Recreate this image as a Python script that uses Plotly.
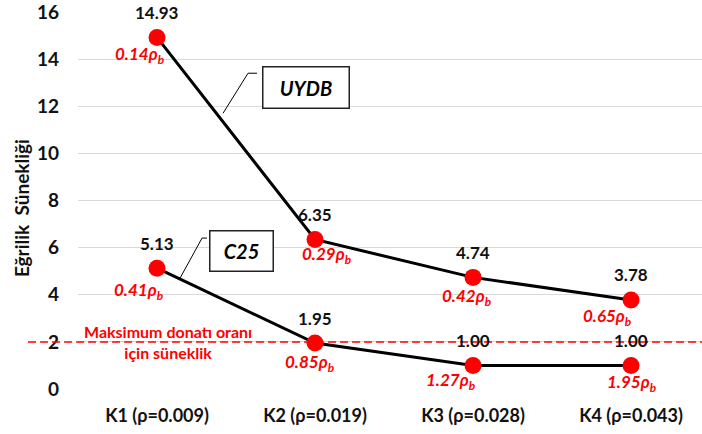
import plotly.graph_objects as go

categories = ["K1 (ρ=0.009)", "K2 (ρ=0.019)", "K3 (ρ=0.028)", "K4 (ρ=0.043)"]
uydb_values = [14.93, 6.35, 4.74, 3.78]
c25_values = [5.13, 1.95, 1.00, 1.00]
uydb_ratio = ["0.14", "0.29", "0.42", "0.65"]
c25_ratio = ["0.41", "0.85", "1.27", "1.95"]
y_ticks = [0, 2, 4, 6, 8, 10, 12, 14, 16]
limit_value = 2

FONT = "Lato"
xs = list(range(len(categories)))

fig = go.Figure()
for vals in (uydb_values, c25_values):
    fig.add_trace(go.Scatter(
        x=xs, y=vals, mode="lines+markers",
        line=dict(color="black", width=3),
        marker=dict(color="#ff0000", size=17),
        showlegend=False, hoverinfo="skip", cliponaxis=False))

ann = []
# value labels
for vals in (uydb_values, c25_values):
    for i, v in enumerate(vals):
        ann.append(dict(x=i, y=v, xref="x", yref="y", text=f"{v:.2f}", showarrow=False,
                        yshift=25, font=dict(family=FONT, size=17, color="#111", weight="bold")))
# ratio labels (offsets in px)
uydb_off = [(-17, -18), (12, -16), (-6, -20), (-24, -17)]
c25_off = [(-18, -23), (-5, -20), (-22, -16), (1, -18)]
for vals, ratios, offs in ((uydb_values, uydb_ratio, uydb_off), (c25_values, c25_ratio, c25_off)):
    for i, (v, r) in enumerate(zip(vals, ratios)):
        ann.append(dict(x=i, y=v, xref="x", yref="y", text=f"<i>{r}ρ<sub>b</sub></i>", showarrow=False,
                        xshift=offs[i][0], yshift=offs[i][1],
                        font=dict(family=FONT, size=17, color="#ff0000", weight="bold")))
# limit text
ann.append(dict(x=0.07, y=limit_value, xref="x", yref="y",
                text="Maksimum donatı oranı<br>için süneklik", showarrow=False,
                font=dict(family=FONT, size=16, color="#ff0000", weight="bold")))
# y-axis title
ann.append(dict(x=-0.0913, y=0.48, xref="paper", yref="paper", text="Eğrilik  Sünekliği",
                textangle=-90, showarrow=False, xanchor="center", yanchor="middle",
                font=dict(family=FONT, size=19, color="#111", weight="bold")))
# series callouts
ann.append(dict(x=0.946, y=12.82, xref="x", yref="y", text="<i>UYDB</i>", showarrow=False,
                width=83, height=38, bordercolor="#222", borderwidth=1.5, bgcolor="white",
                font=dict(family=FONT, size=20, color="black", weight="bold")))
ann.append(dict(x=0.532, y=5.84, xref="x", yref="y", text="<i>C25</i>", showarrow=False,
                width=60, height=37, bordercolor="#222", borderwidth=1.5, bgcolor="white",
                font=dict(family=FONT, size=20, color="black", weight="bold")))

shapes = [
    dict(type="line", xref="paper", yref="y", x0=-0.08, x1=1, y0=limit_value, y1=limit_value,
         line=dict(color="#ff0000", width=1.5, dash="8px,4px"), layer="above"),
    dict(type="path", xref="x", yref="y", path="M 0.418 11.71 L 0.576 13.41 L 0.633 13.41",
         line=dict(color="black", width=1)),
    dict(type="path", xref="x", yref="y", path="M 0.146 4.71 L 0.285 6.41 L 0.316 6.41",
         line=dict(color="black", width=1)),
]

fig.update_layout(
    width=702, height=434, autosize=False,
    margin=dict(l=78, r=0, t=12, b=45),
    plot_bgcolor="white", paper_bgcolor="white",
    annotations=ann, shapes=shapes,
    xaxis=dict(range=[-0.5, 3.449], tickvals=xs, ticktext=categories, showgrid=False,
               zeroline=False, showline=False, ticks="", ticklabelstandoff=14,
               tickfont=dict(family=FONT, size=18, color="#111", weight="bold")),
    yaxis=dict(range=[0, 16.01], tickvals=y_ticks, showgrid=True, gridcolor="#d9d9d9", gridwidth=1.2,
               zeroline=False, showline=False, ticks="", ticklabelstandoff=18,
               ticklabeloverflow="allow",
               tickfont=dict(family=FONT, size=19, color="#111", weight="bold")),
)

fig.write_html("out.html", config={"displayModeBar": False},
               post_script="document.body.style.margin='0';")
